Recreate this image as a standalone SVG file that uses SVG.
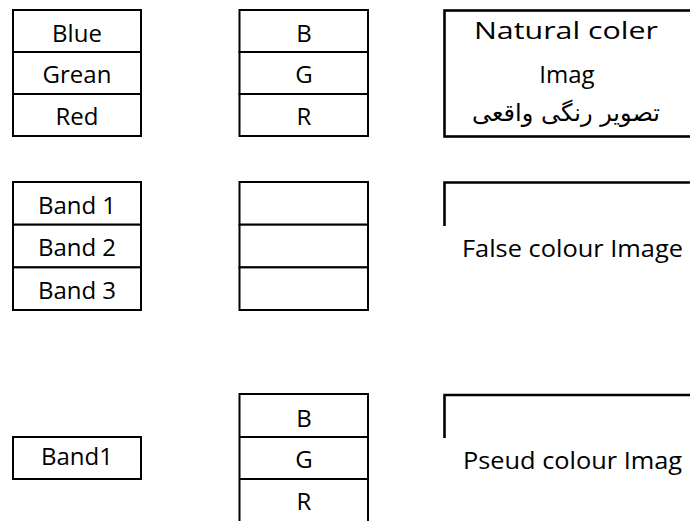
<svg xmlns="http://www.w3.org/2000/svg" width="690" height="521" viewBox="0 0 690 521">
  <style>
    .cell { fill: #ffffff; stroke: #000000; stroke-width: 2; }
    .frame { fill: none; stroke: #000000; stroke-width: 2.6; }
    .lbl { font-family: "Open Sans", "Liberation Sans", sans-serif; font-size: 24px; fill: #000000; }
    .mid { text-anchor: middle; }
    .fa { font-family: "DejaVu Sans", "Noto Sans", sans-serif; font-size: 24px; fill: #000000; text-anchor: middle; }
  </style>
  <rect width="690" height="521" fill="#ffffff"/>

  <!-- Row 1: natural colour composite -->
  <g id="bands-rgb">
    <rect class="cell" x="13" y="10" width="128" height="42"/>
    <rect class="cell" x="13" y="52" width="128" height="42"/>
    <rect class="cell" x="13" y="94" width="128" height="42"/>
    <text class="lbl mid" x="77" y="41.5">Blue</text>
    <text class="lbl mid" x="77" y="83">Grean</text>
    <text class="lbl mid" x="77" y="125">Red</text>
  </g>
  <g id="channels-1">
    <rect class="cell" x="239.5" y="10" width="128.5" height="42"/>
    <rect class="cell" x="239.5" y="52" width="128.5" height="42"/>
    <rect class="cell" x="239.5" y="94" width="128.5" height="42"/>
    <text class="lbl mid" x="304" y="41.5">B</text>
    <text class="lbl mid" x="304" y="83">G</text>
    <text class="lbl mid" x="304" y="125">R</text>
  </g>
  <g id="natural-image">
    <rect class="frame" x="444.5" y="10.5" width="260" height="126"/>
    <text class="lbl mid" x="566" y="39" textLength="184" lengthAdjust="spacingAndGlyphs">Natural coler</text>
    <text class="lbl mid" x="567" y="83">Imag</text>
    <text class="fa" x="566" y="121" direction="rtl">تصویر رنگی واقعی</text>
  </g>

  <!-- Row 2: false colour composite -->
  <g id="bands-123">
    <rect class="cell" x="13" y="182" width="128" height="42.7"/>
    <rect class="cell" x="13" y="224.7" width="128" height="42.7"/>
    <rect class="cell" x="13" y="267.4" width="128" height="42.6"/>
    <text class="lbl mid" x="77" y="214">Band 1</text>
    <text class="lbl mid" x="77" y="256">Band 2</text>
    <text class="lbl mid" x="77" y="299">Band 3</text>
  </g>
  <g id="channels-2">
    <rect class="cell" x="239.5" y="182" width="128.5" height="42.7"/>
    <rect class="cell" x="239.5" y="224.7" width="128.5" height="42.7"/>
    <rect class="cell" x="239.5" y="267.4" width="128.5" height="42.6"/>
  </g>
  <g id="false-image">
    <path class="frame" d="M444.5 226 V182.5 H700"/>
    <text class="lbl" x="462" y="257" textLength="221" lengthAdjust="spacingAndGlyphs">False colour Image</text>
  </g>

  <!-- Row 3: pseudo colour -->
  <g id="band-single">
    <rect class="cell" x="13" y="437" width="128" height="42"/>
    <text class="lbl mid" x="77" y="465">Band1</text>
  </g>
  <g id="channels-3">
    <path class="cell" d="M239.5 530 V394 H368 V530 M239.5 437 H368 M239.5 479 H368"/>
    <text class="lbl mid" x="304" y="427">B</text>
    <text class="lbl mid" x="304" y="468">G</text>
    <text class="lbl mid" x="304" y="510">R</text>
  </g>
  <g id="pseudo-image">
    <path class="frame" d="M444.5 438 V395 H700"/>
    <text class="lbl" x="463" y="469" textLength="219" lengthAdjust="spacingAndGlyphs">Pseud colour Imag</text>
  </g>

  <!-- no connectors in this figure -->
  <g id="connectors"/>
</svg>
